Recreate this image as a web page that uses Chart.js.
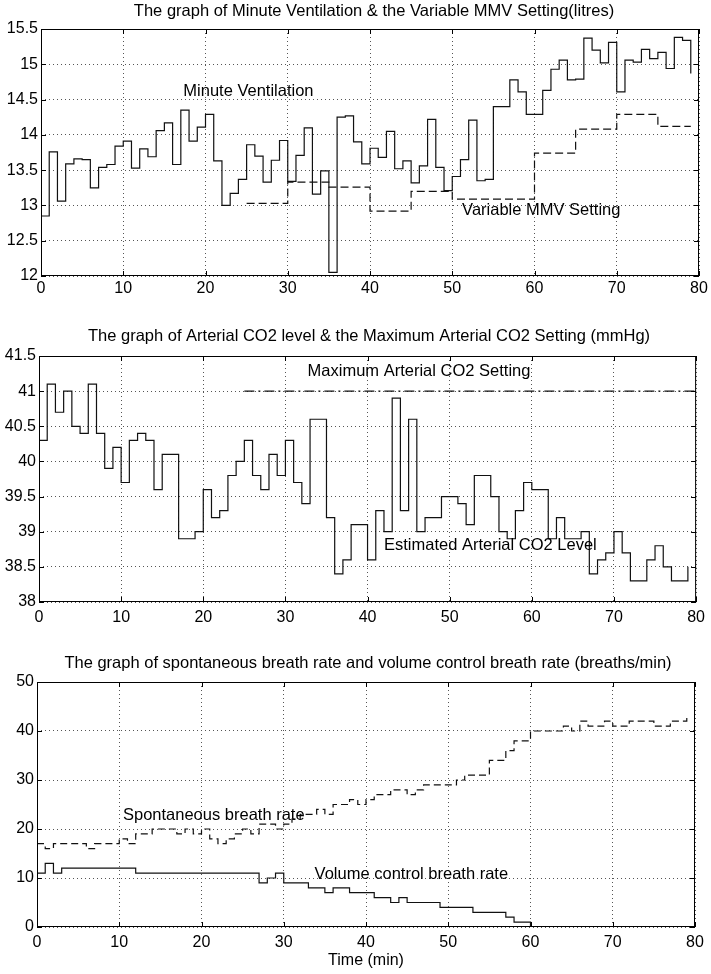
<!DOCTYPE html>
<html><head><meta charset="utf-8">
<script src="https://cdn.jsdelivr.net/npm/chart.js@4.4.1/dist/chart.umd.min.js"></script>
<style>
html,body{margin:0;padding:0;background:#fff;width:711px;height:974px;overflow:hidden;}
canvas{position:absolute;left:0;display:block;}
</style></head><body>
<canvas id="c1" width="711" height="310" style="top:0px"></canvas>
<canvas id="c2" width="711" height="330" style="top:310px"></canvas>
<canvas id="c3" width="711" height="334" style="top:640px"></canvas>
<script>
// ---------- data ----------
const minutes = [0,1,2,3,4,5,6,7,8,9,10,11,12,13,14,15,16,17,18,19,20,21,22,23,24,25,26,27,28,29,
  30,31,32,33,34,35,36,37,38,39,40,41,42,43,44,45,46,47,48,49,50,51,52,53,54,55,56,57,58,59,
  60,61,62,63,64,65,66,67,68,69,70,71,72,73,74,75,76,77,78,79];
const xTicks = [0,10,20,30,40,50,60,70,80];

// Panel 1: minute ventilation (litres), one value per minute
const minuteVentilation = [12.85,13.76,13.06,13.59,13.66,13.65,13.25,13.54,13.58,13.84,
  13.91,13.53,13.80,13.69,14.06,14.17,13.58,14.35,13.91,14.11,
  14.29,13.63,13.00,13.17,13.37,13.86,13.70,13.33,13.64,13.92,
  13.34,13.71,14.10,13.16,13.49,12.05,14.25,14.27,13.90,13.59,
  13.81,13.68,14.05,13.52,13.63,13.32,13.56,14.22,13.54,13.21,
  13.41,13.65,14.21,13.35,13.37,14.40,14.40,14.78,14.61,14.29,
  14.29,14.63,14.93,15.06,14.78,14.79,15.37,15.20,15.02,15.31,
  14.61,15.06,15.03,15.21,15.08,15.17,14.94,15.38,15.34,14.87];
const mmvMinutes = [25,30,35,40,45,50,60,65,70,75,79];
const mmvSetting = [13.03,13.33,13.26,12.92,13.20,13.09,13.74,14.08,14.29,14.12,14.12];
const mvTicks = [12,12.5,13,13.5,14,14.5,15,15.5];

// Panel 2: arterial CO2 (mmHg)
const arterialCO2 = [40.3,41.1,40.7,41.0,40.5,40.4,41.1,40.4,39.9,40.2,
  39.7,40.3,40.4,40.3,39.6,40.1,40.1,38.9,38.9,39.0,
  39.6,39.2,39.3,39.8,40.0,40.3,39.8,39.6,40.1,39.8,
  40.3,39.7,39.4,40.6,40.6,39.2,38.4,38.6,39.1,39.1,
  38.6,39.3,39.0,40.9,39.3,40.6,39.0,39.2,39.2,39.5,
  39.5,39.4,39.1,39.8,39.8,39.5,39.0,38.9,39.3,39.7,
  39.6,39.6,38.9,39.2,38.9,38.9,39.0,38.4,38.6,38.7,
  39.0,38.7,38.3,38.3,38.6,38.8,38.5,38.3,38.3,38.5];
const maxCO2Minutes = [25,80];
const maxCO2Setting = [41,41];
const co2Ticks = [38,38.5,39,39.5,40,40.5,41,41.5];

// Panel 3: breath rates (breaths/min)
const spontaneousRate = [17,16,17,17,17,17,16,17,17,17,
  18,17,19,19,20,20,20,19,20,19,
  20,18,17,18,19,20,19,21,21,20,
  21,22,23,23,24,23,25,25,26,25,
  26,27,27,28,28,27,28,29,29,29,
  29,30,31,31,31,34,34,36,38,38,
  40,40,40,40,41,40,42,41,41,42,
  41,41,42,42,42,41,41,42,42,43];
const volumeControlRate = [11,13,11,12,12,12,12,12,12,12,
  12,12,11,11,11,11,11,11,11,11,
  11,11,11,11,11,11,11,9,10,11,
  9,9,9,8,8,7,8,8,7,7,
  7,6,6,5,6,5,5,5,5,4,
  4,4,4,3,3,3,3,2,1,1,0];
const rateTicks = [0,10,20,30,40,50];

// ---------- helpers ----------
const FONT = '"Liberation Sans", Arial, Helvetica, sans-serif';
Chart.defaults.font.family = FONT;
Chart.defaults.color = '#000';

function pts(xs, ys){ return ys.map((v,i)=>({x:xs[i], y:v})); }

const frame = {
  id:'frame',
  afterDatasetsDraw(chart, args, o){
    const {ctx, chartArea:a, scales:{x, y}} = chart;
    ctx.save();
    ctx.strokeStyle = '#000';
    ctx.lineWidth = 1;
    ctx.setLineDash([]);
    ctx.strokeRect(a.left+0.5, a.top+0.5, a.right-a.left-1, a.bottom-a.top-1);
    ctx.beginPath();
    const tl = 5;
    x.ticks.forEach(t=>{
      const px = Math.round(x.getPixelForValue(t.value))+0.5;
      ctx.moveTo(px, a.bottom); ctx.lineTo(px, a.bottom-tl);
      ctx.moveTo(px, a.top); ctx.lineTo(px, a.top+tl);
    });
    y.ticks.forEach(t=>{
      const py = Math.round(y.getPixelForValue(t.value))+0.5;
      ctx.moveTo(a.left, py); ctx.lineTo(a.left+tl, py);
      ctx.moveTo(a.right, py); ctx.lineTo(a.right-tl, py);
    });
    ctx.stroke();
    ctx.fillStyle = '#000';
    ctx.font = '16.5px ' + FONT;
    ctx.textAlign = 'center';
    ctx.textBaseline = 'middle';
    ctx.fillText(o.title, o.titleX, o.titleY);
    ctx.textAlign = 'left';
    (o.labels||[]).forEach(l=>{
      ctx.fillText(l.text, x.getPixelForValue(l.x), y.getPixelForValue(l.y));
    });
    ctx.restore();
  }
};

function lineDs(data, dash){
  return {data, stepped:'before', borderColor:'#111', borderWidth:1.2,
          borderDash:dash||[], pointRadius:0, fill:false, tension:0};
}

const plainNum = (v) => String(+v);

function makeChart(id, cfg){
  return new Chart(document.getElementById(id), {
    type:'line',
    data:{datasets:cfg.datasets},
    options:{
      responsive:false, animation:false, devicePixelRatio:1,
      layout:{padding:cfg.padding},
      plugins:{legend:{display:false}, tooltip:{enabled:false}, title:{display:false},
        frame:{title:cfg.title, titleX:cfg.titleX, titleY:cfg.titleY, labels:cfg.labels}},
      scales:{
        x:{type:'linear', min:0, max:80,
           afterFit:(s)=>{ s.height = cfg.xHeight; },
           afterBuildTicks:(s)=>{ s.ticks = xTicks.map(v=>({value:v})); },
           ticks:{padding:cfg.xPad, font:{size:16}, color:'#000', maxRotation:0, callback:plainNum},
           grid:{color:'#555', lineWidth:1, drawTicks:false},
           border:{display:false, dash:[1,3]},
           title:cfg.xTitle || {display:false}},
        y:{type:'linear', min:cfg.yMin, max:cfg.yMax,
           afterFit:(s)=>{ s.width = cfg.yWidth; },
           afterBuildTicks:(s)=>{ s.ticks = cfg.yTicks.map(v=>({value:v})); },
           ticks:{padding:3, font:{size:16}, color:'#000', callback:plainNum},
           grid:{color:'#555', lineWidth:1, drawTicks:false},
           border:{display:false, dash:[1,3]}}
      }
    },
    plugins:[frame]
  });
}

makeChart('c1', {
  padding:{left:0, right:12, top:29, bottom:0},
  yWidth:41, xHeight:34, xPad:3, yMin:12, yMax:15.5, yTicks:mvTicks,
  title:'The graph of Minute Ventilation & the Variable MMV Setting(litres)', titleX:374, titleY:11,
  labels:[{text:'Minute Ventilation', x:17.3, y:14.61},{text:'Variable MMV Setting', x:51.2, y:12.93}],
  datasets:[lineDs(pts(minutes, minuteVentilation)), lineDs(pts(mmvMinutes, mmvSetting), [8,4])]
});
makeChart('c2', {
  padding:{left:0, right:14, top:46, bottom:0},
  yWidth:39, xHeight:38, xPad:6, yMin:38, yMax:41.5, yTicks:co2Ticks,
  title:'The graph of Arterial CO2 level & the Maximum Arterial CO2 Setting (mmHg)', titleX:369, titleY:26.7,
  labels:[{text:'Maximum Arterial CO2 Setting', x:32.7, y:41.28},{text:'Estimated Arterial CO2 Level', x:42.0, y:38.81}],
  datasets:[lineDs(pts(minutes, arterialCO2)), lineDs(pts(maxCO2Minutes, maxCO2Setting), [10,4,2,4])]
});
makeChart('c3', {
  padding:{left:0, right:16, top:42, bottom:0},
  yWidth:37, xHeight:47, xPad:6, yMin:0, yMax:50, yTicks:rateTicks,
  title:'The graph of spontaneous breath rate and volume control breath rate (breaths/min)', titleX:368, titleY:23.3,
  labels:[{text:'Spontaneous breath rate', x:10.45, y:22.86},{text:'Volume control breath rate', x:33.75, y:10.8}],
  xTitle:{display:true, text:'Time (min)', font:{size:16}, color:'#000', padding:{top:0, bottom:4}},
  datasets:[lineDs(pts(minutes, spontaneousRate), [7,4]), lineDs(pts(minutes, volumeControlRate))]
});
</script>
</body></html>
